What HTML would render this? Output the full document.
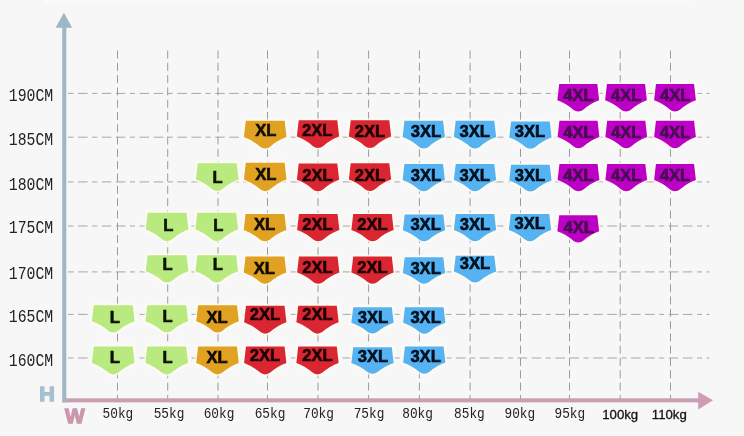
<!DOCTYPE html>
<html><head><meta charset="utf-8"><title>Size chart</title>
<style>
html,body{margin:0;padding:0;background:#f7f7f7;}
body{width:744px;height:436px;overflow:hidden;}
svg{display:block;}
.lab{font-family:"Liberation Sans",sans-serif;font-weight:bold;font-size:16.6px;text-anchor:middle;stroke-width:0.6px;}
.ax{font-family:"Liberation Mono",monospace;fill:#222;}
.big{font-family:"Liberation Sans",sans-serif;font-weight:bold;font-size:20px;stroke-width:1.3px;stroke-linejoin:miter;}
</style></head><body>
<svg width="744" height="436" viewBox="0 0 744 436">
<defs>
<linearGradient id="topfade" x1="0" y1="0" x2="0" y2="1"><stop offset="0" stop-color="#ffffff" stop-opacity="0.55"/><stop offset="1" stop-color="#ffffff" stop-opacity="0"/></linearGradient>
<filter id="soft" x="-10%" y="-10%" width="120%" height="120%"><feGaussianBlur stdDeviation="0.45"/></filter>
<filter id="glow" x="-5%" y="-5%" width="110%" height="110%"><feGaussianBlur stdDeviation="0.9"/></filter>
<filter id="tsoft" x="-10%" y="-20%" width="120%" height="140%"><feGaussianBlur stdDeviation="0.3"/></filter>
</defs>
<rect width="744" height="436" fill="#f7f7f7"/>
<rect x="45" y="0" width="645" height="5" fill="url(#topfade)"/>

<g stroke="#8a8a8a" stroke-width="0.85" fill="none" stroke-dasharray="8 4.3" stroke-dashoffset="-0.5">
<line x1="117.5" y1="50" x2="117.5" y2="399"/>
<line x1="167.7" y1="50" x2="167.7" y2="399"/>
<line x1="218.0" y1="50" x2="218.0" y2="399"/>
<line x1="267.5" y1="50" x2="267.5" y2="399"/>
<line x1="318.0" y1="50" x2="318.0" y2="399"/>
<line x1="368.6" y1="50" x2="368.6" y2="399"/>
<line x1="419.4" y1="50" x2="419.4" y2="399"/>
<line x1="470.1" y1="50" x2="470.1" y2="399"/>
<line x1="520.5" y1="50" x2="520.5" y2="399"/>
<line x1="569.5" y1="50" x2="569.5" y2="399"/>
<line x1="620.2" y1="50" x2="620.2" y2="399"/>
<line x1="670.5" y1="50" x2="670.5" y2="399"/>
</g>
<g stroke="#989898" stroke-width="0.85" fill="none" stroke-dasharray="9.5 4.6 9.5 4.6 5 4.6" stroke-dashoffset="4">
<line x1="68" y1="93.4" x2="709.5" y2="93.4"/>
<line x1="68" y1="137.2" x2="709.5" y2="137.2"/>
<line x1="68" y1="181.9" x2="709.5" y2="181.9"/>
<line x1="68" y1="226.0" x2="709.5" y2="226.0"/>
<line x1="68" y1="271.9" x2="709.5" y2="271.9"/>
<line x1="68" y1="314.4" x2="709.5" y2="314.4"/>
<line x1="68" y1="358.0" x2="709.5" y2="358.0"/>
</g>
<rect x="62.2" y="398.3" width="640" height="4.1" fill="#c9a0b3"/>
<path d="M713,400.3 L698.2,391.8 L698.2,409.6 Z" fill="#cf9bb5"/>
<rect x="62.2" y="26" width="4.1" height="376.3" fill="#a0b7c8"/>
<path d="M63.9,12.8 L72.2,27.8 L55.6,27.8 Z" fill="#9db6c8"/>
<g filter="url(#glow)" fill="#ffffff" stroke="#ffffff" stroke-width="3" stroke-linejoin="round" opacity="0.8">
<path d="M559.19,84.10 L597.31,84.10 L599.15,100.19 Q590.44,103.31 583.18,109.64 Q581.35,111.40 578.25,111.40 Q575.15,111.40 573.32,109.64 Q566.06,103.31 557.35,100.19 Z"/>
<path d="M606.94,84.10 L645.06,84.10 L646.90,100.19 Q638.19,103.31 630.93,109.64 Q629.10,111.40 626.00,111.40 Q622.90,111.40 621.07,109.64 Q613.81,103.31 605.10,100.19 Z"/>
<path d="M655.94,84.10 L694.06,84.10 L695.90,100.19 Q687.19,103.31 679.93,109.64 Q678.10,111.40 675.00,111.40 Q671.90,111.40 670.07,109.64 Q662.81,103.31 654.10,100.19 Z"/>
<path d="M245.77,120.85 L284.63,120.85 L286.50,137.11 Q277.62,140.27 270.23,146.68 Q268.36,148.45 265.20,148.45 Q262.04,148.45 260.17,146.68 Q252.77,140.27 243.90,137.11 Z"/>
<path d="M298.71,120.35 L337.29,120.35 L339.15,136.61 Q330.34,139.77 322.99,146.18 Q321.13,147.95 318.00,147.95 Q314.87,147.95 313.01,146.18 Q305.66,139.77 296.85,136.61 Z"/>
<path d="M350.71,120.35 L389.29,120.35 L391.15,136.61 Q382.34,139.77 374.99,146.18 Q373.13,147.95 370.00,147.95 Q366.87,147.95 365.01,146.18 Q357.66,139.77 348.85,136.61 Z"/>
<path d="M404.46,120.85 L443.04,120.85 L444.90,137.11 Q436.09,140.27 428.74,146.68 Q426.88,148.45 423.75,148.45 Q420.62,148.45 418.76,146.68 Q411.41,140.27 402.60,137.11 Z"/>
<path d="M455.71,120.85 L494.29,120.85 L496.15,137.11 Q487.34,140.27 479.99,146.68 Q478.13,148.45 475.00,148.45 Q471.87,148.45 470.01,146.68 Q462.66,140.27 453.85,137.11 Z"/>
<path d="M511.11,121.60 L549.69,121.60 L551.55,137.57 Q542.74,140.67 535.39,146.96 Q533.53,148.70 530.40,148.70 Q527.27,148.70 525.41,146.96 Q518.06,140.67 509.25,137.57 Z"/>
<path d="M559.44,120.85 L597.56,120.85 L599.40,137.00 Q590.69,140.13 583.43,146.49 Q581.60,148.25 578.50,148.25 Q575.40,148.25 573.57,146.49 Q566.31,140.13 557.60,137.00 Z"/>
<path d="M607.19,120.85 L645.31,120.85 L647.15,137.00 Q638.44,140.13 631.18,146.49 Q629.35,148.25 626.25,148.25 Q623.15,148.25 621.32,146.49 Q614.06,140.13 605.35,137.00 Z"/>
<path d="M655.94,120.85 L694.06,120.85 L695.90,137.00 Q687.19,140.13 679.93,146.49 Q678.10,148.25 675.00,148.25 Q671.90,148.25 670.07,146.49 Q662.81,140.13 654.10,137.00 Z"/>
<path d="M197.73,163.35 L236.67,163.35 L238.55,179.61 Q229.65,182.77 222.24,189.18 Q220.36,190.95 217.20,190.95 Q214.04,190.95 212.16,189.18 Q204.75,182.77 195.85,179.61 Z"/>
<path d="M245.77,162.85 L284.63,162.85 L286.50,179.53 Q277.62,182.76 270.23,189.33 Q268.36,191.15 265.20,191.15 Q262.04,191.15 260.17,189.33 Q252.77,182.76 243.90,179.53 Z"/>
<path d="M298.71,163.60 L337.29,163.60 L339.15,179.86 Q330.34,183.02 322.99,189.43 Q321.13,191.20 318.00,191.20 Q314.87,191.20 313.01,189.43 Q305.66,183.02 296.85,179.86 Z"/>
<path d="M350.71,163.35 L389.29,163.35 L391.15,179.61 Q382.34,182.77 374.99,189.18 Q373.13,190.95 370.00,190.95 Q366.87,190.95 365.01,189.18 Q357.66,182.77 348.85,179.61 Z"/>
<path d="M404.46,164.10 L443.04,164.10 L444.90,180.07 Q436.09,183.17 428.74,189.46 Q426.88,191.20 423.75,191.20 Q420.62,191.20 418.76,189.46 Q411.41,183.17 402.60,180.07 Z"/>
<path d="M455.71,164.10 L494.29,164.10 L496.15,180.07 Q487.34,183.17 479.99,189.46 Q478.13,191.20 475.00,191.20 Q471.87,191.20 470.01,189.46 Q462.66,183.17 453.85,180.07 Z"/>
<path d="M511.11,164.85 L549.69,164.85 L551.55,180.53 Q542.74,183.56 535.39,189.74 Q533.53,191.45 530.40,191.45 Q527.27,191.45 525.41,189.74 Q518.06,183.56 509.25,180.53 Z"/>
<path d="M559.44,164.10 L597.56,164.10 L599.40,180.07 Q590.69,183.17 583.43,189.46 Q581.60,191.20 578.50,191.20 Q575.40,191.20 573.57,189.46 Q566.31,183.17 557.60,180.07 Z"/>
<path d="M607.19,164.10 L645.31,164.10 L647.15,180.07 Q638.44,183.17 631.18,189.46 Q629.35,191.20 626.25,191.20 Q623.15,191.20 621.32,189.46 Q614.06,183.17 605.35,180.07 Z"/>
<path d="M655.94,164.10 L694.06,164.10 L695.90,180.07 Q687.19,183.17 679.93,189.46 Q678.10,191.20 675.00,191.20 Q671.90,191.20 670.07,189.46 Q662.81,183.17 654.10,180.07 Z"/>
<path d="M147.63,212.85 L186.57,212.85 L188.45,229.53 Q179.55,232.76 172.14,239.33 Q170.26,241.15 167.10,241.15 Q163.94,241.15 162.06,239.33 Q154.65,232.76 145.75,229.53 Z"/>
<path d="M197.28,212.85 L236.22,212.85 L238.10,229.53 Q229.20,232.76 221.79,239.33 Q219.91,241.15 216.75,241.15 Q213.59,241.15 211.71,239.33 Q204.30,232.76 195.40,229.53 Z"/>
<path d="M245.57,214.10 L284.43,214.10 L286.30,230.07 Q277.43,233.17 270.03,239.46 Q268.16,241.20 265.00,241.20 Q261.84,241.20 259.97,239.46 Q252.57,233.17 243.70,230.07 Z"/>
<path d="M298.96,214.10 L337.54,214.10 L339.40,230.07 Q330.59,233.17 323.24,239.46 Q321.38,241.20 318.25,241.20 Q315.12,241.20 313.26,239.46 Q305.91,233.17 297.10,230.07 Z"/>
<path d="M353.21,214.10 L391.79,214.10 L393.65,230.07 Q384.84,233.17 377.49,239.46 Q375.63,241.20 372.50,241.20 Q369.37,241.20 367.51,239.46 Q360.16,233.17 351.35,230.07 Z"/>
<path d="M404.71,214.60 L443.29,214.60 L445.15,230.28 Q436.34,233.31 428.99,239.49 Q427.13,241.20 424.00,241.20 Q420.87,241.20 419.01,239.49 Q411.66,233.31 402.85,230.28 Z"/>
<path d="M455.71,214.10 L494.29,214.10 L496.15,230.07 Q487.34,233.17 479.99,239.46 Q478.13,241.20 475.00,241.20 Q471.87,241.20 470.01,239.46 Q462.66,233.17 453.85,230.07 Z"/>
<path d="M510.71,214.10 L549.29,214.10 L551.15,230.07 Q542.34,233.17 534.99,239.46 Q533.13,241.20 530.00,241.20 Q526.87,241.20 525.01,239.46 Q517.66,233.17 508.85,230.07 Z"/>
<path d="M559.19,215.35 L597.31,215.35 L599.15,231.32 Q590.44,234.42 583.18,240.71 Q581.35,242.45 578.25,242.45 Q575.15,242.45 573.32,240.71 Q566.06,234.42 557.35,231.32 Z"/>
<path d="M147.63,255.35 L186.57,255.35 L188.45,271.32 Q179.55,274.42 172.14,280.71 Q170.26,282.45 167.10,282.45 Q163.94,282.45 162.06,280.71 Q154.65,274.42 145.75,271.32 Z"/>
<path d="M197.28,255.35 L236.22,255.35 L238.10,271.32 Q229.20,274.42 221.79,280.71 Q219.91,282.45 216.75,282.45 Q213.59,282.45 211.71,280.71 Q204.30,274.42 195.40,271.32 Z"/>
<path d="M245.57,256.60 L284.43,256.60 L286.30,272.57 Q277.43,275.67 270.03,281.96 Q268.16,283.70 265.00,283.70 Q261.84,283.70 259.97,281.96 Q252.57,275.67 243.70,272.57 Z"/>
<path d="M298.96,256.60 L337.54,256.60 L339.40,272.57 Q330.59,275.67 323.24,281.96 Q321.38,283.70 318.25,283.70 Q315.12,283.70 313.26,281.96 Q305.91,275.67 297.10,272.57 Z"/>
<path d="M353.21,256.60 L391.79,256.60 L393.65,272.57 Q384.84,275.67 377.49,281.96 Q375.63,283.70 372.50,283.70 Q369.37,283.70 367.51,281.96 Q360.16,275.67 351.35,272.57 Z"/>
<path d="M404.71,257.35 L443.29,257.35 L445.15,272.88 Q436.34,275.89 428.99,282.01 Q427.13,283.70 424.00,283.70 Q420.87,283.70 419.01,282.01 Q411.66,275.89 402.85,272.88 Z"/>
<path d="M455.71,255.85 L494.29,255.85 L496.15,271.52 Q487.34,274.56 479.99,280.74 Q478.13,282.45 475.00,282.45 Q471.87,282.45 470.01,280.74 Q462.66,274.56 453.85,271.52 Z"/>
<path d="M93.78,305.35 L132.72,305.35 L134.60,321.32 Q125.70,324.42 118.29,330.71 Q116.41,332.45 113.25,332.45 Q110.09,332.45 108.21,330.71 Q100.80,324.42 91.90,321.32 Z"/>
<path d="M147.28,305.35 L186.22,305.35 L188.10,321.32 Q179.20,324.42 171.79,330.71 Q169.91,332.45 166.75,332.45 Q163.59,332.45 161.71,330.71 Q154.30,324.42 145.40,321.32 Z"/>
<path d="M198.07,305.35 L236.93,305.35 L238.80,321.32 Q229.92,324.42 222.53,330.71 Q220.66,332.45 217.50,332.45 Q214.34,332.45 212.47,330.71 Q205.07,324.42 196.20,321.32 Z"/>
<path d="M245.96,305.85 L284.54,305.85 L286.40,322.23 Q277.59,325.41 270.24,331.86 Q268.38,333.65 265.25,333.65 Q262.12,333.65 260.26,331.86 Q252.91,325.41 244.10,322.23 Z"/>
<path d="M298.21,305.85 L336.79,305.85 L338.65,322.23 Q329.84,325.41 322.49,331.86 Q320.63,333.65 317.50,333.65 Q314.37,333.65 312.51,331.86 Q305.16,325.41 296.35,322.23 Z"/>
<path d="M353.21,307.35 L391.79,307.35 L393.65,322.73 Q384.84,325.71 377.49,331.77 Q375.63,333.45 372.50,333.45 Q369.37,333.45 367.51,331.77 Q360.16,325.71 351.35,322.73 Z"/>
<path d="M404.96,307.35 L443.54,307.35 L445.40,322.85 Q436.59,325.85 429.24,331.96 Q427.38,333.65 424.25,333.65 Q421.12,333.65 419.26,331.96 Q411.91,325.85 403.10,322.85 Z"/>
<path d="M93.78,346.60 L132.72,346.60 L134.60,362.98 Q125.70,366.16 118.29,372.61 Q116.41,374.40 113.25,374.40 Q110.09,374.40 108.21,372.61 Q100.80,366.16 91.90,362.98 Z"/>
<path d="M147.28,346.60 L186.22,346.60 L188.10,362.98 Q179.20,366.16 171.79,372.61 Q169.91,374.40 166.75,374.40 Q163.59,374.40 161.71,372.61 Q154.30,366.16 145.40,362.98 Z"/>
<path d="M198.07,346.60 L236.93,346.60 L238.80,362.98 Q229.92,366.16 222.53,372.61 Q220.66,374.40 217.50,374.40 Q214.34,374.40 212.47,372.61 Q205.07,366.16 196.20,362.98 Z"/>
<path d="M245.96,346.60 L284.54,346.60 L286.40,362.98 Q277.59,366.16 270.24,372.61 Q268.38,374.40 265.25,374.40 Q262.12,374.40 260.26,372.61 Q252.91,366.16 244.10,362.98 Z"/>
<path d="M298.21,346.60 L336.79,346.60 L338.65,362.98 Q329.84,366.16 322.49,372.61 Q320.63,374.40 317.50,374.40 Q314.37,374.40 312.51,372.61 Q305.16,366.16 296.35,362.98 Z"/>
<path d="M353.21,347.35 L391.79,347.35 L393.65,362.88 Q384.84,365.89 377.49,372.01 Q375.63,373.70 372.50,373.70 Q369.37,373.70 367.51,372.01 Q360.16,365.89 351.35,362.88 Z"/>
<path d="M404.96,346.60 L443.54,346.60 L445.40,362.57 Q436.59,365.67 429.24,371.96 Q427.38,373.70 424.25,373.70 Q421.12,373.70 419.26,371.96 Q411.91,365.67 403.10,362.57 Z"/>
</g>
<g filter="url(#soft)">
<path d="M559.19,84.10 L597.31,84.10 L599.15,100.19 Q590.44,103.31 583.18,109.64 Q581.35,111.40 578.25,111.40 Q575.15,111.40 573.32,109.64 Q566.06,103.31 557.35,100.19 Z" fill="#bc02c6" stroke="#fffbe6" stroke-opacity="0.8" stroke-width="2.2" paint-order="stroke"/>
<path d="M606.94,84.10 L645.06,84.10 L646.90,100.19 Q638.19,103.31 630.93,109.64 Q629.10,111.40 626.00,111.40 Q622.90,111.40 621.07,109.64 Q613.81,103.31 605.10,100.19 Z" fill="#bc02c6" stroke="#fffbe6" stroke-opacity="0.8" stroke-width="2.2" paint-order="stroke"/>
<path d="M655.94,84.10 L694.06,84.10 L695.90,100.19 Q687.19,103.31 679.93,109.64 Q678.10,111.40 675.00,111.40 Q671.90,111.40 670.07,109.64 Q662.81,103.31 654.10,100.19 Z" fill="#bc02c6" stroke="#fffbe6" stroke-opacity="0.8" stroke-width="2.2" paint-order="stroke"/>
<path d="M245.77,120.85 L284.63,120.85 L286.50,137.11 Q277.62,140.27 270.23,146.68 Q268.36,148.45 265.20,148.45 Q262.04,148.45 260.17,146.68 Q252.77,140.27 243.90,137.11 Z" fill="#e1a124" stroke="#fffbe6" stroke-opacity="0.8" stroke-width="2.2" paint-order="stroke"/>
<path d="M298.71,120.35 L337.29,120.35 L339.15,136.61 Q330.34,139.77 322.99,146.18 Q321.13,147.95 318.00,147.95 Q314.87,147.95 313.01,146.18 Q305.66,139.77 296.85,136.61 Z" fill="#da2633" stroke="#fffbe6" stroke-opacity="0.8" stroke-width="2.2" paint-order="stroke"/>
<path d="M350.71,120.35 L389.29,120.35 L391.15,136.61 Q382.34,139.77 374.99,146.18 Q373.13,147.95 370.00,147.95 Q366.87,147.95 365.01,146.18 Q357.66,139.77 348.85,136.61 Z" fill="#da2633" stroke="#fffbe6" stroke-opacity="0.8" stroke-width="2.2" paint-order="stroke"/>
<path d="M404.46,120.85 L443.04,120.85 L444.90,137.11 Q436.09,140.27 428.74,146.68 Q426.88,148.45 423.75,148.45 Q420.62,148.45 418.76,146.68 Q411.41,140.27 402.60,137.11 Z" fill="#54b2f3" stroke="#fffbe6" stroke-opacity="0.8" stroke-width="2.2" paint-order="stroke"/>
<path d="M455.71,120.85 L494.29,120.85 L496.15,137.11 Q487.34,140.27 479.99,146.68 Q478.13,148.45 475.00,148.45 Q471.87,148.45 470.01,146.68 Q462.66,140.27 453.85,137.11 Z" fill="#54b2f3" stroke="#fffbe6" stroke-opacity="0.8" stroke-width="2.2" paint-order="stroke"/>
<path d="M511.11,121.60 L549.69,121.60 L551.55,137.57 Q542.74,140.67 535.39,146.96 Q533.53,148.70 530.40,148.70 Q527.27,148.70 525.41,146.96 Q518.06,140.67 509.25,137.57 Z" fill="#54b2f3" stroke="#fffbe6" stroke-opacity="0.8" stroke-width="2.2" paint-order="stroke"/>
<path d="M559.44,120.85 L597.56,120.85 L599.40,137.00 Q590.69,140.13 583.43,146.49 Q581.60,148.25 578.50,148.25 Q575.40,148.25 573.57,146.49 Q566.31,140.13 557.60,137.00 Z" fill="#bc02c6" stroke="#fffbe6" stroke-opacity="0.8" stroke-width="2.2" paint-order="stroke"/>
<path d="M607.19,120.85 L645.31,120.85 L647.15,137.00 Q638.44,140.13 631.18,146.49 Q629.35,148.25 626.25,148.25 Q623.15,148.25 621.32,146.49 Q614.06,140.13 605.35,137.00 Z" fill="#bc02c6" stroke="#fffbe6" stroke-opacity="0.8" stroke-width="2.2" paint-order="stroke"/>
<path d="M655.94,120.85 L694.06,120.85 L695.90,137.00 Q687.19,140.13 679.93,146.49 Q678.10,148.25 675.00,148.25 Q671.90,148.25 670.07,146.49 Q662.81,140.13 654.10,137.00 Z" fill="#bc02c6" stroke="#fffbe6" stroke-opacity="0.8" stroke-width="2.2" paint-order="stroke"/>
<path d="M197.73,163.35 L236.67,163.35 L238.55,179.61 Q229.65,182.77 222.24,189.18 Q220.36,190.95 217.20,190.95 Q214.04,190.95 212.16,189.18 Q204.75,182.77 195.85,179.61 Z" fill="#b9ea80" stroke="#fffbe6" stroke-opacity="0.8" stroke-width="2.2" paint-order="stroke"/>
<path d="M245.77,162.85 L284.63,162.85 L286.50,179.53 Q277.62,182.76 270.23,189.33 Q268.36,191.15 265.20,191.15 Q262.04,191.15 260.17,189.33 Q252.77,182.76 243.90,179.53 Z" fill="#e1a124" stroke="#fffbe6" stroke-opacity="0.8" stroke-width="2.2" paint-order="stroke"/>
<path d="M298.71,163.60 L337.29,163.60 L339.15,179.86 Q330.34,183.02 322.99,189.43 Q321.13,191.20 318.00,191.20 Q314.87,191.20 313.01,189.43 Q305.66,183.02 296.85,179.86 Z" fill="#da2633" stroke="#fffbe6" stroke-opacity="0.8" stroke-width="2.2" paint-order="stroke"/>
<path d="M350.71,163.35 L389.29,163.35 L391.15,179.61 Q382.34,182.77 374.99,189.18 Q373.13,190.95 370.00,190.95 Q366.87,190.95 365.01,189.18 Q357.66,182.77 348.85,179.61 Z" fill="#da2633" stroke="#fffbe6" stroke-opacity="0.8" stroke-width="2.2" paint-order="stroke"/>
<path d="M404.46,164.10 L443.04,164.10 L444.90,180.07 Q436.09,183.17 428.74,189.46 Q426.88,191.20 423.75,191.20 Q420.62,191.20 418.76,189.46 Q411.41,183.17 402.60,180.07 Z" fill="#54b2f3" stroke="#fffbe6" stroke-opacity="0.8" stroke-width="2.2" paint-order="stroke"/>
<path d="M455.71,164.10 L494.29,164.10 L496.15,180.07 Q487.34,183.17 479.99,189.46 Q478.13,191.20 475.00,191.20 Q471.87,191.20 470.01,189.46 Q462.66,183.17 453.85,180.07 Z" fill="#54b2f3" stroke="#fffbe6" stroke-opacity="0.8" stroke-width="2.2" paint-order="stroke"/>
<path d="M511.11,164.85 L549.69,164.85 L551.55,180.53 Q542.74,183.56 535.39,189.74 Q533.53,191.45 530.40,191.45 Q527.27,191.45 525.41,189.74 Q518.06,183.56 509.25,180.53 Z" fill="#54b2f3" stroke="#fffbe6" stroke-opacity="0.8" stroke-width="2.2" paint-order="stroke"/>
<path d="M559.44,164.10 L597.56,164.10 L599.40,180.07 Q590.69,183.17 583.43,189.46 Q581.60,191.20 578.50,191.20 Q575.40,191.20 573.57,189.46 Q566.31,183.17 557.60,180.07 Z" fill="#bc02c6" stroke="#fffbe6" stroke-opacity="0.8" stroke-width="2.2" paint-order="stroke"/>
<path d="M607.19,164.10 L645.31,164.10 L647.15,180.07 Q638.44,183.17 631.18,189.46 Q629.35,191.20 626.25,191.20 Q623.15,191.20 621.32,189.46 Q614.06,183.17 605.35,180.07 Z" fill="#bc02c6" stroke="#fffbe6" stroke-opacity="0.8" stroke-width="2.2" paint-order="stroke"/>
<path d="M655.94,164.10 L694.06,164.10 L695.90,180.07 Q687.19,183.17 679.93,189.46 Q678.10,191.20 675.00,191.20 Q671.90,191.20 670.07,189.46 Q662.81,183.17 654.10,180.07 Z" fill="#bc02c6" stroke="#fffbe6" stroke-opacity="0.8" stroke-width="2.2" paint-order="stroke"/>
<path d="M147.63,212.85 L186.57,212.85 L188.45,229.53 Q179.55,232.76 172.14,239.33 Q170.26,241.15 167.10,241.15 Q163.94,241.15 162.06,239.33 Q154.65,232.76 145.75,229.53 Z" fill="#b9ea80" stroke="#fffbe6" stroke-opacity="0.8" stroke-width="2.2" paint-order="stroke"/>
<path d="M197.28,212.85 L236.22,212.85 L238.10,229.53 Q229.20,232.76 221.79,239.33 Q219.91,241.15 216.75,241.15 Q213.59,241.15 211.71,239.33 Q204.30,232.76 195.40,229.53 Z" fill="#b9ea80" stroke="#fffbe6" stroke-opacity="0.8" stroke-width="2.2" paint-order="stroke"/>
<path d="M245.57,214.10 L284.43,214.10 L286.30,230.07 Q277.43,233.17 270.03,239.46 Q268.16,241.20 265.00,241.20 Q261.84,241.20 259.97,239.46 Q252.57,233.17 243.70,230.07 Z" fill="#e1a124" stroke="#fffbe6" stroke-opacity="0.8" stroke-width="2.2" paint-order="stroke"/>
<path d="M298.96,214.10 L337.54,214.10 L339.40,230.07 Q330.59,233.17 323.24,239.46 Q321.38,241.20 318.25,241.20 Q315.12,241.20 313.26,239.46 Q305.91,233.17 297.10,230.07 Z" fill="#da2633" stroke="#fffbe6" stroke-opacity="0.8" stroke-width="2.2" paint-order="stroke"/>
<path d="M353.21,214.10 L391.79,214.10 L393.65,230.07 Q384.84,233.17 377.49,239.46 Q375.63,241.20 372.50,241.20 Q369.37,241.20 367.51,239.46 Q360.16,233.17 351.35,230.07 Z" fill="#da2633" stroke="#fffbe6" stroke-opacity="0.8" stroke-width="2.2" paint-order="stroke"/>
<path d="M404.71,214.60 L443.29,214.60 L445.15,230.28 Q436.34,233.31 428.99,239.49 Q427.13,241.20 424.00,241.20 Q420.87,241.20 419.01,239.49 Q411.66,233.31 402.85,230.28 Z" fill="#54b2f3" stroke="#fffbe6" stroke-opacity="0.8" stroke-width="2.2" paint-order="stroke"/>
<path d="M455.71,214.10 L494.29,214.10 L496.15,230.07 Q487.34,233.17 479.99,239.46 Q478.13,241.20 475.00,241.20 Q471.87,241.20 470.01,239.46 Q462.66,233.17 453.85,230.07 Z" fill="#54b2f3" stroke="#fffbe6" stroke-opacity="0.8" stroke-width="2.2" paint-order="stroke"/>
<path d="M510.71,214.10 L549.29,214.10 L551.15,230.07 Q542.34,233.17 534.99,239.46 Q533.13,241.20 530.00,241.20 Q526.87,241.20 525.01,239.46 Q517.66,233.17 508.85,230.07 Z" fill="#54b2f3" stroke="#fffbe6" stroke-opacity="0.8" stroke-width="2.2" paint-order="stroke"/>
<path d="M559.19,215.35 L597.31,215.35 L599.15,231.32 Q590.44,234.42 583.18,240.71 Q581.35,242.45 578.25,242.45 Q575.15,242.45 573.32,240.71 Q566.06,234.42 557.35,231.32 Z" fill="#bc02c6" stroke="#fffbe6" stroke-opacity="0.8" stroke-width="2.2" paint-order="stroke"/>
<path d="M147.63,255.35 L186.57,255.35 L188.45,271.32 Q179.55,274.42 172.14,280.71 Q170.26,282.45 167.10,282.45 Q163.94,282.45 162.06,280.71 Q154.65,274.42 145.75,271.32 Z" fill="#b9ea80" stroke="#fffbe6" stroke-opacity="0.8" stroke-width="2.2" paint-order="stroke"/>
<path d="M197.28,255.35 L236.22,255.35 L238.10,271.32 Q229.20,274.42 221.79,280.71 Q219.91,282.45 216.75,282.45 Q213.59,282.45 211.71,280.71 Q204.30,274.42 195.40,271.32 Z" fill="#b9ea80" stroke="#fffbe6" stroke-opacity="0.8" stroke-width="2.2" paint-order="stroke"/>
<path d="M245.57,256.60 L284.43,256.60 L286.30,272.57 Q277.43,275.67 270.03,281.96 Q268.16,283.70 265.00,283.70 Q261.84,283.70 259.97,281.96 Q252.57,275.67 243.70,272.57 Z" fill="#e1a124" stroke="#fffbe6" stroke-opacity="0.8" stroke-width="2.2" paint-order="stroke"/>
<path d="M298.96,256.60 L337.54,256.60 L339.40,272.57 Q330.59,275.67 323.24,281.96 Q321.38,283.70 318.25,283.70 Q315.12,283.70 313.26,281.96 Q305.91,275.67 297.10,272.57 Z" fill="#da2633" stroke="#fffbe6" stroke-opacity="0.8" stroke-width="2.2" paint-order="stroke"/>
<path d="M353.21,256.60 L391.79,256.60 L393.65,272.57 Q384.84,275.67 377.49,281.96 Q375.63,283.70 372.50,283.70 Q369.37,283.70 367.51,281.96 Q360.16,275.67 351.35,272.57 Z" fill="#da2633" stroke="#fffbe6" stroke-opacity="0.8" stroke-width="2.2" paint-order="stroke"/>
<path d="M404.71,257.35 L443.29,257.35 L445.15,272.88 Q436.34,275.89 428.99,282.01 Q427.13,283.70 424.00,283.70 Q420.87,283.70 419.01,282.01 Q411.66,275.89 402.85,272.88 Z" fill="#54b2f3" stroke="#fffbe6" stroke-opacity="0.8" stroke-width="2.2" paint-order="stroke"/>
<path d="M455.71,255.85 L494.29,255.85 L496.15,271.52 Q487.34,274.56 479.99,280.74 Q478.13,282.45 475.00,282.45 Q471.87,282.45 470.01,280.74 Q462.66,274.56 453.85,271.52 Z" fill="#54b2f3" stroke="#fffbe6" stroke-opacity="0.8" stroke-width="2.2" paint-order="stroke"/>
<path d="M93.78,305.35 L132.72,305.35 L134.60,321.32 Q125.70,324.42 118.29,330.71 Q116.41,332.45 113.25,332.45 Q110.09,332.45 108.21,330.71 Q100.80,324.42 91.90,321.32 Z" fill="#b9ea80" stroke="#fffbe6" stroke-opacity="0.8" stroke-width="2.2" paint-order="stroke"/>
<path d="M147.28,305.35 L186.22,305.35 L188.10,321.32 Q179.20,324.42 171.79,330.71 Q169.91,332.45 166.75,332.45 Q163.59,332.45 161.71,330.71 Q154.30,324.42 145.40,321.32 Z" fill="#b9ea80" stroke="#fffbe6" stroke-opacity="0.8" stroke-width="2.2" paint-order="stroke"/>
<path d="M198.07,305.35 L236.93,305.35 L238.80,321.32 Q229.92,324.42 222.53,330.71 Q220.66,332.45 217.50,332.45 Q214.34,332.45 212.47,330.71 Q205.07,324.42 196.20,321.32 Z" fill="#e1a124" stroke="#fffbe6" stroke-opacity="0.8" stroke-width="2.2" paint-order="stroke"/>
<path d="M245.96,305.85 L284.54,305.85 L286.40,322.23 Q277.59,325.41 270.24,331.86 Q268.38,333.65 265.25,333.65 Q262.12,333.65 260.26,331.86 Q252.91,325.41 244.10,322.23 Z" fill="#da2633" stroke="#fffbe6" stroke-opacity="0.8" stroke-width="2.2" paint-order="stroke"/>
<path d="M298.21,305.85 L336.79,305.85 L338.65,322.23 Q329.84,325.41 322.49,331.86 Q320.63,333.65 317.50,333.65 Q314.37,333.65 312.51,331.86 Q305.16,325.41 296.35,322.23 Z" fill="#da2633" stroke="#fffbe6" stroke-opacity="0.8" stroke-width="2.2" paint-order="stroke"/>
<path d="M353.21,307.35 L391.79,307.35 L393.65,322.73 Q384.84,325.71 377.49,331.77 Q375.63,333.45 372.50,333.45 Q369.37,333.45 367.51,331.77 Q360.16,325.71 351.35,322.73 Z" fill="#54b2f3" stroke="#fffbe6" stroke-opacity="0.8" stroke-width="2.2" paint-order="stroke"/>
<path d="M404.96,307.35 L443.54,307.35 L445.40,322.85 Q436.59,325.85 429.24,331.96 Q427.38,333.65 424.25,333.65 Q421.12,333.65 419.26,331.96 Q411.91,325.85 403.10,322.85 Z" fill="#54b2f3" stroke="#fffbe6" stroke-opacity="0.8" stroke-width="2.2" paint-order="stroke"/>
<path d="M93.78,346.60 L132.72,346.60 L134.60,362.98 Q125.70,366.16 118.29,372.61 Q116.41,374.40 113.25,374.40 Q110.09,374.40 108.21,372.61 Q100.80,366.16 91.90,362.98 Z" fill="#b9ea80" stroke="#fffbe6" stroke-opacity="0.8" stroke-width="2.2" paint-order="stroke"/>
<path d="M147.28,346.60 L186.22,346.60 L188.10,362.98 Q179.20,366.16 171.79,372.61 Q169.91,374.40 166.75,374.40 Q163.59,374.40 161.71,372.61 Q154.30,366.16 145.40,362.98 Z" fill="#b9ea80" stroke="#fffbe6" stroke-opacity="0.8" stroke-width="2.2" paint-order="stroke"/>
<path d="M198.07,346.60 L236.93,346.60 L238.80,362.98 Q229.92,366.16 222.53,372.61 Q220.66,374.40 217.50,374.40 Q214.34,374.40 212.47,372.61 Q205.07,366.16 196.20,362.98 Z" fill="#e1a124" stroke="#fffbe6" stroke-opacity="0.8" stroke-width="2.2" paint-order="stroke"/>
<path d="M245.96,346.60 L284.54,346.60 L286.40,362.98 Q277.59,366.16 270.24,372.61 Q268.38,374.40 265.25,374.40 Q262.12,374.40 260.26,372.61 Q252.91,366.16 244.10,362.98 Z" fill="#da2633" stroke="#fffbe6" stroke-opacity="0.8" stroke-width="2.2" paint-order="stroke"/>
<path d="M298.21,346.60 L336.79,346.60 L338.65,362.98 Q329.84,366.16 322.49,372.61 Q320.63,374.40 317.50,374.40 Q314.37,374.40 312.51,372.61 Q305.16,366.16 296.35,362.98 Z" fill="#da2633" stroke="#fffbe6" stroke-opacity="0.8" stroke-width="2.2" paint-order="stroke"/>
<path d="M353.21,347.35 L391.79,347.35 L393.65,362.88 Q384.84,365.89 377.49,372.01 Q375.63,373.70 372.50,373.70 Q369.37,373.70 367.51,372.01 Q360.16,365.89 351.35,362.88 Z" fill="#54b2f3" stroke="#fffbe6" stroke-opacity="0.8" stroke-width="2.2" paint-order="stroke"/>
<path d="M404.96,346.60 L443.54,346.60 L445.40,362.57 Q436.59,365.67 429.24,371.96 Q427.38,373.70 424.25,373.70 Q421.12,373.70 419.26,371.96 Q411.91,365.67 403.10,362.57 Z" fill="#54b2f3" stroke="#fffbe6" stroke-opacity="0.8" stroke-width="2.2" paint-order="stroke"/>
</g>
<g filter="url(#tsoft)">
<text class="lab" x="578.45" y="100.5" fill="#45094e" stroke="#45094e">4XL</text>
<text class="lab" x="626.2" y="100.5" fill="#45094e" stroke="#45094e">4XL</text>
<text class="lab" x="675.2" y="100.5" fill="#45094e" stroke="#45094e">4XL</text>
<text class="lab" x="265.9" y="136.25" fill="#120a02" stroke="#120a02">XL</text>
<text class="lab" x="317.3" y="136.4" fill="#1a0306" stroke="#1a0306">2XL</text>
<text class="lab" x="370" y="137" fill="#1a0306" stroke="#1a0306">2XL</text>
<text class="lab" x="426" y="137" fill="#06121c" stroke="#06121c">3XL</text>
<text class="lab" x="474.75" y="137" fill="#06121c" stroke="#06121c">3XL</text>
<text class="lab" x="530" y="137" fill="#06121c" stroke="#06121c">3XL</text>
<text class="lab" x="578.5" y="137.5" fill="#45094e" stroke="#45094e">4XL</text>
<text class="lab" x="626.25" y="137.5" fill="#45094e" stroke="#45094e">4XL</text>
<text class="lab" x="675" y="137.5" fill="#45094e" stroke="#45094e">4XL</text>
<text class="lab" x="217.5" y="182.6" fill="#0a1205" stroke="#0a1205">L</text>
<text class="lab" x="265.8" y="179.7" fill="#120a02" stroke="#120a02">XL</text>
<text class="lab" x="317.5" y="181.25" fill="#1a0306" stroke="#1a0306">2XL</text>
<text class="lab" x="370" y="180.75" fill="#1a0306" stroke="#1a0306">2XL</text>
<text class="lab" x="426" y="180.75" fill="#06121c" stroke="#06121c">3XL</text>
<text class="lab" x="474.75" y="180.75" fill="#06121c" stroke="#06121c">3XL</text>
<text class="lab" x="530" y="180.5" fill="#06121c" stroke="#06121c">3XL</text>
<text class="lab" x="578.5" y="181.25" fill="#45094e" stroke="#45094e">4XL</text>
<text class="lab" x="626.25" y="181.25" fill="#45094e" stroke="#45094e">4XL</text>
<text class="lab" x="675" y="181.25" fill="#45094e" stroke="#45094e">4XL</text>
<text class="lab" x="168.4" y="231.25" fill="#0a1205" stroke="#0a1205">L</text>
<text class="lab" x="218.4" y="231.25" fill="#0a1205" stroke="#0a1205">L</text>
<text class="lab" x="264.6" y="229.5" fill="#120a02" stroke="#120a02">XL</text>
<text class="lab" x="317.5" y="230" fill="#1a0306" stroke="#1a0306">2XL</text>
<text class="lab" x="372.5" y="230" fill="#1a0306" stroke="#1a0306">2XL</text>
<text class="lab" x="425.6" y="230" fill="#06121c" stroke="#06121c">3XL</text>
<text class="lab" x="475" y="229.5" fill="#06121c" stroke="#06121c">3XL</text>
<text class="lab" x="529.75" y="229.25" fill="#06121c" stroke="#06121c">3XL</text>
<text class="lab" x="578.75" y="232.5" fill="#45094e" stroke="#45094e">4XL</text>
<text class="lab" x="167.5" y="269.5" fill="#0a1205" stroke="#0a1205">L</text>
<text class="lab" x="217.9" y="269.5" fill="#0a1205" stroke="#0a1205">L</text>
<text class="lab" x="264.4" y="273.75" fill="#120a02" stroke="#120a02">XL</text>
<text class="lab" x="317.5" y="273" fill="#1a0306" stroke="#1a0306">2XL</text>
<text class="lab" x="372.5" y="273" fill="#1a0306" stroke="#1a0306">2XL</text>
<text class="lab" x="425.6" y="273.75" fill="#06121c" stroke="#06121c">3XL</text>
<text class="lab" x="475" y="268.75" fill="#06121c" stroke="#06121c">3XL</text>
<text class="lab" x="114.75" y="323" fill="#0a1205" stroke="#0a1205">L</text>
<text class="lab" x="167.5" y="322" fill="#0a1205" stroke="#0a1205">L</text>
<text class="lab" x="217" y="323" fill="#120a02" stroke="#120a02">XL</text>
<text class="lab" x="265" y="320" fill="#1a0306" stroke="#1a0306">2XL</text>
<text class="lab" x="317.5" y="320" fill="#1a0306" stroke="#1a0306">2XL</text>
<text class="lab" x="373" y="322.5" fill="#06121c" stroke="#06121c">3XL</text>
<text class="lab" x="425.6" y="322.5" fill="#06121c" stroke="#06121c">3XL</text>
<text class="lab" x="114.75" y="362.5" fill="#0a1205" stroke="#0a1205">L</text>
<text class="lab" x="167.5" y="362.5" fill="#0a1205" stroke="#0a1205">L</text>
<text class="lab" x="217" y="363" fill="#120a02" stroke="#120a02">XL</text>
<text class="lab" x="265" y="361.25" fill="#1a0306" stroke="#1a0306">2XL</text>
<text class="lab" x="317.5" y="361.25" fill="#1a0306" stroke="#1a0306">2XL</text>
<text class="lab" x="373" y="362" fill="#06121c" stroke="#06121c">3XL</text>
<text class="lab" x="425.6" y="361.75" fill="#06121c" stroke="#06121c">3XL</text>
</g>
<text class="ax" font-size="18.6" transform="translate(8.8,101.3) scale(0.795,1)">190CM</text>
<text class="ax" font-size="18.6" transform="translate(8.8,144.79999999999998) scale(0.795,1)">185CM</text>
<text class="ax" font-size="18.6" transform="translate(8.8,189.89999999999998) scale(0.795,1)">180CM</text>
<text class="ax" font-size="18.6" transform="translate(8.8,233.2) scale(0.795,1)">175CM</text>
<text class="ax" font-size="18.6" transform="translate(8.8,279.3) scale(0.795,1)">170CM</text>
<text class="ax" font-size="18.6" transform="translate(8.8,321.8) scale(0.795,1)">165CM</text>
<text class="ax" font-size="18.6" transform="translate(8.8,366.0) scale(0.795,1)">160CM</text>
<text class="ax" font-size="15.5" text-anchor="middle" transform="translate(117.9,418.2) scale(0.825,1)">50kg</text>
<text class="ax" font-size="15.5" text-anchor="middle" transform="translate(169,418.2) scale(0.825,1)">55kg</text>
<text class="ax" font-size="15.5" text-anchor="middle" transform="translate(219,418.2) scale(0.825,1)">60kg</text>
<text class="ax" font-size="15.5" text-anchor="middle" transform="translate(270,418.2) scale(0.825,1)">65kg</text>
<text class="ax" font-size="15.5" text-anchor="middle" transform="translate(318.6,418.2) scale(0.825,1)">70kg</text>
<text class="ax" font-size="15.5" text-anchor="middle" transform="translate(369,418.2) scale(0.825,1)">75kg</text>
<text class="ax" font-size="15.5" text-anchor="middle" transform="translate(417.6,418.2) scale(0.825,1)">80kg</text>
<text class="ax" font-size="15.5" text-anchor="middle" transform="translate(469.4,418.2) scale(0.825,1)">85kg</text>
<text class="ax" font-size="15.5" text-anchor="middle" transform="translate(519.8,418.2) scale(0.825,1)">90kg</text>
<text class="ax" font-size="15.5" text-anchor="middle" transform="translate(569.8,418.2) scale(0.825,1)">95kg</text>
<text font-family="Liberation Sans, sans-serif" font-size="13.2" fill="#111" stroke="#111" stroke-width="0.3" text-anchor="middle" x="620.2" y="419.2">100kg</text>
<text font-family="Liberation Sans, sans-serif" font-size="13.2" fill="#111" stroke="#111" stroke-width="0.3" text-anchor="middle" x="669.3" y="419.2">110kg</text>
<text class="big" transform="translate(47.1,401.2) scale(1.08,1)" text-anchor="middle" fill="#a6bfce" stroke="#a6bfce">H</text>
<text class="big" transform="translate(74.8,422.9) scale(1.04,1)" text-anchor="middle" fill="#cc97ac" stroke="#cc97ac">W</text>
</svg></body></html>
